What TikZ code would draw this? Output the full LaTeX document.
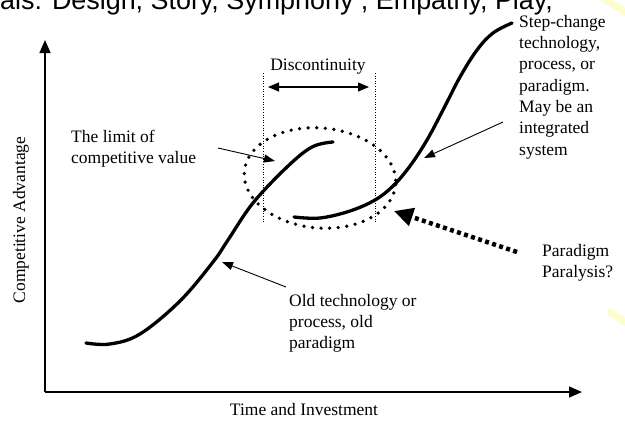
\documentclass[tikz,border=0pt]{standalone}
\usepackage{fontspec}
\setmainfont{Liberation Serif}
\newfontfamily\hdrfont{Liberation Sans}
\usetikzlibrary{arrows.meta}
\begin{document}
\begin{tikzpicture}[x=1pt,y=-1pt,
  lbl/.style={font=\fontsize{17.5}{21.3}\selectfont, align=left, inner sep=0pt, anchor=north west},
  curve/.style={line width=3.3pt, line cap=round},
  pointer/.style={line width=0.9pt, -{Triangle[length=11pt,width=8pt]}},
  axis/.style={line width=1.4pt, -{Triangle[length=13pt,width=11pt]}},
  guide/.style={line width=0.6pt, dash pattern=on 1pt off 1.6pt},
  ring/.style={line width=3.7pt, line cap=round, dash pattern=on 0pt off 8.6pt},
  bigdots/.style={line width=4.5pt, dash pattern=on 4pt off 3.4pt, -{Triangle[length=19pt,width=18pt]}},
  glow/.style={line width=7pt, color=yellow!45!white, opacity=0.45, line cap=round}]
\useasboundingbox (0,0) rectangle (625,421);
\clip (0,0) rectangle (625,421);
% header text (cut off at top, as in the reference)
\node[font=\hdrfont\fontsize{26.9}{30}\selectfont, inner sep=0pt, anchor=base west] (hdr) at (0,9.5) {als: Design, Story, Symphony , Empathy, Play,};
\draw[glow] (603,-2) -- (628,14);
\draw[glow] (610,312) -- (628,324);
% axes
\coordinate (org) at (45,392);
\coordinate (ytip) at (45,40);
\coordinate (xtip) at (582,392);
\draw[axis] (org) -- (ytip);
\draw[axis] (org) -- (xtip);
\node[font=\fontsize{17.5}{21}\selectfont, inner sep=0pt, anchor=base] (xlab) at (304,415) {Time and Investment};
\node[font=\fontsize{17.5}{21}\selectfont, inner sep=0pt, anchor=base, rotate=90] (ylab) at (25,220) {Competitive Advantage};
% old curve
\draw[curve] plot[smooth, tension=0.6] coordinates {(86,343) (110,344) (140,334) (180,301) (213,262) (228,240) (253,203) (287,167) (312,147) (333,142)};
% new curve
\draw[curve] plot[smooth, tension=0.6] coordinates {(294,217) (320,218) (350,211) (375,200) (393,186) (410,166) (427,140) (443,110) (460,77) (477,50) (493,33) (512,23)};
% dotted ellipse
\draw[ring] (320,178) ellipse[x radius=76, y radius=50, rotate=-5];
% discontinuity guides
\coordinate (gl1) at (263,73); \coordinate (gl2) at (263,222);
\coordinate (gr1) at (375,73); \coordinate (gr2) at (375,222);
\draw[guide] (gl1) -- (gl2);
\draw[guide] (gr1) -- (gr2);
\coordinate (dl) at (268,87); \coordinate (dr) at (369,87);
\draw[line width=1.1pt, {Triangle[length=11pt,width=9pt]}-{Triangle[length=11pt,width=9pt]}] (dl) -- (dr);
\node[lbl, anchor=base] (disc) at (318,70) {Discontinuity};
% labels
\node[lbl] (limit) at (71,130) {The limit of\\competitive value};
\node[lbl] (step) at (519,15) {Step-change\\technology,\\process, or\\paradigm.\\May be an\\integrated\\system};
\node[lbl] (para) at (542,244) {Paradigm\\Paralysis?};
\node[lbl] (old) at (289,294) {Old technology or\\process, old\\paradigm};
% pointers
\coordinate (limitA) at (218,148); \coordinate (limitB) at (275,161);
\draw[pointer] (limitA) -- (limitB);
\coordinate (stepA) at (503,122); \coordinate (stepB) at (424,158);
\draw[pointer] (stepA) -- (stepB);
\coordinate (oldA) at (286,287); \coordinate (oldB) at (222,262);
\draw[pointer] (oldA) -- (oldB);
\coordinate (paraA) at (517,252); \coordinate (paraB) at (394,211);
\draw[bigdots] (paraA) -- (paraB);
\end{tikzpicture}
\end{document}
